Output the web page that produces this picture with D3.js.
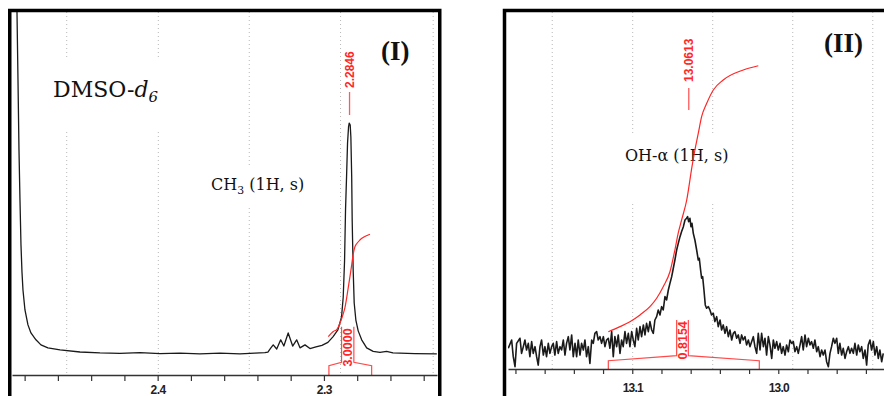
<!DOCTYPE html>
<html>
<head>
<meta charset="utf-8">
<script src="https://cdnjs.cloudflare.com/ajax/libs/d3/7.8.5/d3.min.js"></script>
<style>
    body { margin: 0; background: #fff; }
    svg { display: block; }
</style>
</head>
<body>
<script>
// ---- panel (I) : CH3 singlet, DMSO-d6 ----
let leftPpm = [2.4855, 2.4846, 2.4840, 2.4834, 2.4828, 2.4822, 2.4816, 2.4810, 2.4798, 2.4780,
               2.4762, 2.4732, 2.4702, 2.4660, 2.4587, 2.4467, 2.4347, 2.4227, 2.4106, 2.3986,
               2.3866, 2.3746, 2.3625, 2.3505, 2.3415, 2.3355, 2.3337, 2.3319, 2.3305, 2.3284,
               2.3260, 2.3241, 2.3215, 2.3188, 2.3164, 2.3144, 2.3114, 2.3084, 2.3048, 2.3012,
               2.2976, 2.2946, 2.2916, 2.2894, 2.2884, 2.2876, 2.2870, 2.2864, 2.2858, 2.2852,
               2.2848, 2.2842, 2.2838, 2.2833, 2.2830, 2.2824, 2.2818, 2.2808, 2.2794, 2.2773,
               2.2743, 2.2704, 2.2663, 2.2623, 2.2585, 2.2543, 2.2453, 2.2321]
let leftInt = [400, 148.3, 118.7, 88.3, 66.5, 47.0, 35.2, 27.4, 18.7, 12.2,
               8.7, 5.7, 3.5, 2.2, 1.3, 0.4, 0, -0.2, 0.1, -0.3,
               -0.1, -0.4, -0.1, -0.4, -0.1, 0.1, 0.4, 2.2, 3.5, 1.7,
               5.7, 3.0, 8.7, 3.0, 5.7, 2.2, 3.5, 1.9, 2.6, 3.3,
               4.6, 7.0, 10.0, 15.7, 24.3, 40.0, 62.6, 76.5, 91.3, 98.3,
               100, 99.1, 93.9, 76.5, 57.4, 35.7, 21.7, 14.3, 9.6, 5.7,
               2.2, 0.7, 0.2, 0.7, 0, -0.1, -0.3, -0.4]
let leftIntegPpm = [2.2974, 2.2944, 2.2922, 2.2904, 2.2884, 2.2874, 2.2854, 2.2833, 2.2824, 2.2814, 2.2802, 2.2784, 2.2760, 2.2723]
let leftIntegVal = [7.1, 9.3, 10.2, 12.9, 17.0, 19.6, 28.3, 38.3, 43.0, 46.1, 47.6, 49.1, 50.4, 51.6]
let leftTicks = [2.48, 2.46, 2.44, 2.42, 2.40, 2.38, 2.36, 2.34, 2.32, 2.30, 2.28, 2.26, 2.24]
let leftTickLabels = [2.4, 2.3]
let leftGrid = [2.4547, 2.3996, 2.3449, 2.2900, 2.2343]
let leftPeak = 2.2846
let leftRange = [2.2970, 2.2894, 2.2820, 2.2713]   // bracket feet and inner posts
let leftArea = '3.0000'

// ---- panel (II) : OH-a singlet ----
let rightPpm = [13.1849, 13.1826, 13.1815, 13.1803, 13.1792, 13.1769, 13.1758, 13.1746, 13.1735, 13.1724,
                13.1712, 13.1701, 13.1689, 13.1678, 13.1666, 13.1655, 13.1644, 13.1632, 13.1621, 13.1609,
                13.1598, 13.1587, 13.1575, 13.1564, 13.1552, 13.1541, 13.1530, 13.1518, 13.1507, 13.1495,
                13.1484, 13.1472, 13.1461, 13.1450, 13.1438, 13.1427, 13.1415, 13.1404, 13.1392, 13.1381,
                13.1370, 13.1358, 13.1347, 13.1335, 13.1324, 13.1313, 13.1301, 13.1290, 13.1278, 13.1267,
                13.1256, 13.1244, 13.1233, 13.1221, 13.1210, 13.1198, 13.1187, 13.1176, 13.1164, 13.1153,
                13.1141, 13.1130, 13.1119, 13.1107, 13.1096, 13.1084, 13.1073, 13.1062, 13.1050, 13.1039,
                13.1027, 13.1016, 13.1004, 13.0993, 13.0982, 13.0970, 13.0959, 13.0947, 13.0936, 13.0924,
                13.0913, 13.0902, 13.0890, 13.0879, 13.0867, 13.0856, 13.0845, 13.0833, 13.0822, 13.0810,
                13.0799, 13.0788, 13.0776, 13.0765, 13.0753, 13.0742, 13.0730, 13.0719, 13.0708, 13.0696,
                13.0685, 13.0673, 13.0662, 13.0650, 13.0639, 13.0628, 13.0621, 13.0614, 13.0605, 13.0598,
                13.0591, 13.0582, 13.0571, 13.0559, 13.0548, 13.0541, 13.0532, 13.0525, 13.0518, 13.0509,
                13.0500, 13.0491, 13.0479, 13.0468, 13.0457, 13.0445, 13.0434, 13.0422, 13.0411, 13.0399,
                13.0388, 13.0377, 13.0365, 13.0354, 13.0342, 13.0331, 13.0319, 13.0308, 13.0297, 13.0285,
                13.0274, 13.0262, 13.0251, 13.0240, 13.0228, 13.0217, 13.0205, 13.0194, 13.0182, 13.0171,
                13.0160, 13.0148, 13.0137, 13.0125, 13.0114, 13.0102, 13.0091, 13.0080, 13.0068, 13.0057,
                13.0045, 13.0034, 13.0023, 13.0011, 13.0000, 12.9988, 12.9977, 12.9966, 12.9954, 12.9943,
                12.9931, 12.9920, 12.9908, 12.9897, 12.9886, 12.9874, 12.9863, 12.9851, 12.9840, 12.9829,
                12.9817, 12.9806, 12.9794, 12.9783, 12.9772, 12.9760, 12.9749, 12.9737, 12.9726, 12.9714,
                12.9703, 12.9692, 12.9680, 12.9669, 12.9657, 12.9646, 12.9635, 12.9623, 12.9612, 12.9600,
                12.9589, 12.9578, 12.9566, 12.9555, 12.9543, 12.9532, 12.9520, 12.9509, 12.9498, 12.9486,
                12.9475, 12.9463, 12.9452, 12.9441, 12.9429, 12.9418, 12.9406, 12.9395, 12.9384, 12.9372,
                12.9361, 12.9349, 12.9338, 12.9326, 12.9315, 12.9304, 12.9292, 12.9281]
let rightInt = [1.3, 7.5, -5.0, -12.5, 5.0, 8.8, -2.5, 2.5, 7.5, 0,
                5.0, -5.0, 6.3, -2.5, 2.5, -5.0, -11.3, 2.5, 7.5, -3.8,
                2.5, -5.0, 5.0, -2.5, 2.5, 5.0, -3.8, 6.3, -2.5, 2.5,
                0, 7.5, -3.8, 5.0, 10.0, 0, 11.3, -5.0, 5.0, -5.0,
                7.5, -3.8, 5.0, 0, 7.5, -5.0, 2.5, -10.0, 7.5, 5.0,
                12.5, 13.8, 7.5, 10.0, 5.0, 10.0, 2.5, 7.5, 8.8, 1.3,
                13.8, -5.0, 10.0, 2.5, 11.3, -2.5, 7.5, 2.5, 13.8, 5.0,
                12.5, 2.5, 13.8, 7.5, 2.5, 16.3, 7.5, 17.5, 10.0, 18.8,
                11.3, 20.0, 13.8, 21.3, 15.0, 12.5, 22.5, 25.0, 30.0, 26.3,
                32.5, 30.0, 40.0, 37.5, 45.0, 50.0, 55.0, 61.3, 67.5, 75.0,
                80.0, 85.0, 88.8, 92.5, 97.5, 98.8, 100.0, 96.3, 98.8, 92.5,
                95.0, 87.5, 82.5, 75.0, 67.5, 68.8, 60.0, 53.8, 55.0, 45.0,
                33.8, 31.3, 32.5, 30.0, 26.3, 27.5, 21.3, 25.0, 17.5, 22.5,
                15.0, 18.8, 12.5, 17.5, 10.0, 15.0, 7.5, 12.5, 13.8, 8.8,
                11.3, 5.0, 11.3, 7.5, 10.0, 3.8, 7.5, 2.5, 6.3, 10.0,
                2.5, -2.5, 12.5, 0, 12.5, 2.5, 8.8, -3.8, 10.0, 3.8,
                -6.3, 7.5, 1.3, 6.3, 0, 5.0, -2.5, 2.5, -3.8, 3.8,
                -1.3, 7.5, 5.0, 6.3, -1.3, 2.5, -2.5, 3.8, 10.0, 0,
                11.3, 2.5, 8.8, 3.8, 6.3, 1.3, 7.5, -1.3, 2.5, -5.0,
                0, -3.8, 0, -8.8, -12.5, -2.5, 2.5, 8.8, 5.0, 8.8,
                -2.5, 5.0, -3.8, 1.3, -6.3, -1.3, 2.5, -2.5, 1.3, -2.5,
                5.0, -3.8, 3.8, -1.3, 2.5, -6.3, 0, -11.3, 3.8, 7.5,
                0, 6.3, -3.8, 2.5, -6.3, 0, -8.8, -2.5]
let rightIntegPpm = [13.1164, 13.1084, 13.1016, 13.0947, 13.0879, 13.0833, 13.0788, 13.0742, 13.0708, 13.0685, 13.0662,
                     13.0627, 13.0591, 13.0571, 13.0548, 13.0525, 13.0490, 13.0445, 13.0377, 13.0240, 13.0137]
let rightIntegVal = [13.7, 17.5, 21.2, 26.3, 32.5, 38.8, 47.5, 58.7, 75.0, 87.8, 97.5,
                     112.5, 137.5, 150.0, 162.5, 175.0, 185.0, 195.0, 202.5, 210.0, 213.2]
let rightTicks = [13.18, 13.16, 13.14, 13.12, 13.10, 13.08, 13.06, 13.04, 13.02, 13.00, 12.98, 12.96, 12.94]
let rightTickLabels = [13.1, 13.0]
let rightGrid = [13.1548, 13.0997, 13.0449, 12.9901, 12.9353]
let rightPeak = 13.0613
let rightRange = [13.1164, 13.0696, 13.0616, 13.0130]
let rightArea = '0.8154'

const RED = '#ff2626'
const SERIF = "'DejaVu Serif', serif"
const SANS = "'Liberation Sans', Arial, sans-serif"

function drawPanel(svg, p){

    let x = d3.scaleLinear().domain(p.xDomain).range([p.left, p.right])   // ppm runs right to left
    let y = d3.scaleLinear().domain(p.yDomain).range([p.axisY, p.top])

    svg.append('clipPath')
        .attr('id', 'clip' + p.id)
        .append('rect')
        .attr('x', p.left).attr('y', p.top)
        .attr('width', p.right - p.left)
        .attr('height', p.axisY - p.top)

    let g = svg.append('g')

    // dotted vertical grid
    g.selectAll('line.grid')
        .data(p.grid)
        .enter()
        .append('line')
        .attr('class', 'grid')
        .attr('x1', d => x(d)).attr('x2', d => x(d))
        .attr('y1', p.top).attr('y2', p.axisY)
        .attr('stroke', '#b8b8b8')
        .attr('stroke-dasharray', '1,3')

    // annotations sit on a white box that breaks the grid
    p.notes.forEach(function(n){
        let t = g.append('text')
            .attr('x', n.x).attr('y', n.y)
            .attr('font-family', n.family)
            .attr('font-size', n.size)
            .attr('font-weight', n.bold ? 'bold' : 'normal')
            .attr('fill', '#111')
        n.parts.forEach(function(s){
            let ts = t.append('tspan').text(s.t)
            if (s.italic) ts.attr('font-style', 'italic')
            if (s.sub) ts.attr('font-size', n.size * 0.68).attr('dy', n.size * 0.22)
            if (s.back) ts.attr('dy', -n.size * 0.22)
        })
        if (n.pad){
            let b = t.node().getBBox()
            g.insert('rect', function(){ return t.node() })
                .attr('x', b.x - n.pad[0]).attr('y', b.y - n.pad[1])
                .attr('width', b.width + 2 * n.pad[0])
                .attr('height', b.height + n.pad[1] + n.pad[2])
                .attr('fill', '#fff')
        }
    })

    // spectrum trace
    let line = d3.line()
        .x(d => x(d[0]))
        .y(d => y(d[1]))

    g.append('path')
        .datum(d3.zip(p.ppm, p.int))
        .attr('clip-path', 'url(#clip' + p.id + ')')
        .attr('d', line)
        .attr('fill', 'none')
        .attr('stroke', '#1a1a1a')
        .attr('stroke-width', p.traceWidth)
        .attr('stroke-linejoin', 'round')

    // integral curve
    g.append('path')
        .datum(d3.zip(p.integPpm, p.integVal))
        .attr('d', line.curve(d3.curveMonotoneX))
        .attr('fill', 'none')
        .attr('stroke', RED)
        .attr('stroke-width', 1.2)

    // integral bracket under the peak
    let r = p.range
    let b = p.bracket          // [foot height, shoulder height, post top, label centre] above axis
    let bl = d3.line()
    let leftArm = [[x(r[0]), p.axisY], [x(r[0]), p.axisY - b[0]], [x(r[1]), p.axisY - b[1]], [x(r[1]), p.axisY - b[2]]]
    let rightArm = [[x(r[2]), p.axisY - b[2]], [x(r[2]), p.axisY - b[1]], [x(r[3]), p.axisY - b[0]], [x(r[3]), p.axisY]]
    g.selectAll('path.arm')
        .data([leftArm, rightArm])
        .enter()
        .append('path')
        .attr('class', 'arm')
        .attr('d', bl)
        .attr('fill', 'none')
        .attr('stroke', '#ff4a4a')
        .attr('stroke-width', 1.2)

    g.append('text')
        .attr('transform', 'translate(' + (x(r[1]) + x(r[2])) / 2 + ',' + (p.axisY - b[3]) + ') rotate(-90)')
        .attr('text-anchor', 'middle')
        .attr('dy', '0.36em')
        .attr('font-family', SANS)
        .attr('font-weight', 'bold')
        .attr('font-size', 12.5)
        .attr('fill', RED)
        .text(p.area)

    // peak pick label
    let px = x(p.peak)
    g.append('line')
        .attr('x1', px).attr('x2', px)
        .attr('y1', p.peakLine[0]).attr('y2', p.peakLine[1])
        .attr('stroke', '#ff5a5a')
        .attr('stroke-width', 1.3)
    g.append('text')
        .attr('transform', 'translate(' + px + ',' + p.peakText + ') rotate(-90)')
        .attr('dy', '0.36em')
        .attr('font-family', SANS)
        .attr('font-weight', 'bold')
        .attr('font-size', 12)
        .attr('fill', RED)
        .text(d3.format('.4f')(p.peak))

    // ppm axis
    let axis = d3.axisBottom(x)
        .tickValues(p.ticks)
        .tickSize(p.tickLen)
        .tickSizeOuter(0)
        .tickPadding(p.tickPad)
        .tickFormat(d => p.tickLabels.indexOf(d) >= 0 ? d3.format('.1f')(d) : '')

    let ax = svg.append('g')
        .attr('transform', 'translate(0,' + p.axisY + ')')
        .call(axis)
    ax.select('.domain').attr('stroke', '#333').attr('stroke-width', 1.4)
    ax.selectAll('.tick line').attr('stroke', '#333').attr('stroke-width', 1.2)
    ax.selectAll('.tick text')
        .attr('font-family', SANS)
        .attr('font-weight', 'bold')
        .attr('font-size', p.tickFont)
        .attr('letter-spacing', p.tickSpacing)
        .attr('fill', '#222')

    // heavy black frame
    svg.append('rect')
        .attr('x', p.frame[0]).attr('y', p.frame[1])
        .attr('width', p.frame[2]).attr('height', p.frame[3])
        .attr('fill', 'none')
        .attr('stroke', '#000')
        .attr('stroke-width', 3.5)
}

function main(){

    let svg = d3.select('body')
        .append('svg')
        .attr('width', 884)
        .attr('height', 396)

    svg.append('rect').attr('width', 884).attr('height', 396).attr('fill', '#fff')

    drawPanel(svg, {
        id: 'I',
        xDomain: [2.4876, 2.2320], left: 12, right: 437,
        yDomain: [-9.6, 148.3], top: 12, axisY: 375,
        ppm: leftPpm, int: leftInt, traceWidth: 1.3,
        integPpm: leftIntegPpm, integVal: leftIntegVal,
        grid: leftGrid,
        ticks: leftTicks, tickLabels: leftTickLabels, tickLen: 6, tickPad: 4, tickFont: 12, tickSpacing: -0.5,
        peak: leftPeak, peakLine: [92, 115], peakText: 88,
        range: leftRange, bracket: [9.3, 12.7, 48.3, 27.5], area: leftArea,
        frame: [9.75, 10.5, 430, 420],
        notes: [
            { x: 53, y: 97, size: 22, family: SERIF, pad: [14, 17, 26],
              parts: [{ t: 'DMSO-' }, { t: 'd', italic: true }, { t: '6', italic: true, sub: true }] },
            { x: 211, y: 190, size: 16, family: SERIF, pad: [8, 10, 10],
              parts: [{ t: 'CH' }, { t: '3', sub: true }, { t: ' (1H, s)', back: true }] },
            { x: 381, y: 60, size: 27, family: "'Liberation Serif', serif", bold: true,
              parts: [{ t: '(I)' }] }
        ]
    })

    drawPanel(svg, {
        id: 'II',
        xDomain: [13.1851, 12.9276], left: 508, right: 884,
        yDomain: [-14.25, 253.5], top: 12, axisY: 369,
        ppm: rightPpm, int: rightInt, traceWidth: 1.6,
        integPpm: rightIntegPpm, integVal: rightIntegVal,
        grid: rightGrid,
        ticks: rightTicks, tickLabels: rightTickLabels, tickLen: 5, tickPad: 9, tickFont: 12, tickSpacing: -0.8,
        peak: rightPeak, peakLine: [88, 110], peakText: 82,
        range: rightRange, bracket: [8.3, 13.3, 49, 28.7], area: rightArea,
        frame: [504.5, 10.5, 420, 420],
        notes: [
            { x: 625, y: 161, size: 16, family: SERIF, pad: [8, 12, 38],
              parts: [{ t: 'OH-\u03b1 (1H, s)' }] },
            { x: 824, y: 52, size: 27, family: "'Liberation Serif', serif", bold: true,
              parts: [{ t: '(II)' }] }
        ]
    })
}

main()
</script>
</body>
</html>
